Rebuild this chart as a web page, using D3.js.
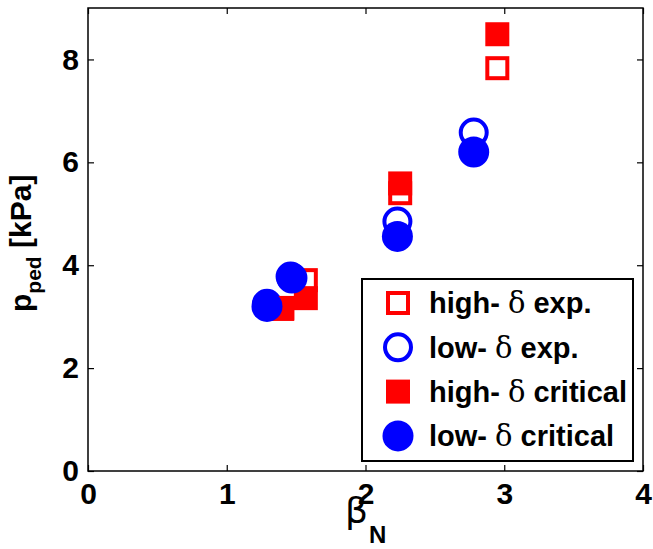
<!DOCTYPE html>
<html>
<head>
<meta charset="utf-8">
<script src="https://cdn.jsdelivr.net/npm/d3@7"></script>
<style>
  body { margin: 0; background: #fff; }
  text { font-family: "Liberation Sans", Arial, sans-serif; }
</style>
</head>
<body>
<script>
// data
var highExpX = [1.40, 1.57, 2.25, 2.95];
var highExpY = [3.15, 3.71, 5.40, 7.83];
var lowExpX = [1.29, 1.46, 2.23, 2.78];
var lowExpY = [3.25, 3.78, 4.85, 6.58];
var highCritX = [1.40, 1.57, 2.25, 2.95];
var highCritY = [3.17, 3.36, 5.59, 8.49];
var lowCritX = [1.29, 1.47, 2.23, 2.78];
var lowCritY = [3.20, 3.75, 4.56, 6.20];

var xTicks = [0, 1, 2, 3, 4];
var yTicks = [0, 2, 4, 6, 8];
var legendLabels = [["high- ", "exp."], ["low- ", "exp."], ["high- ", "critical"], ["low- ", "critical"]];

const w = 653;
const h = 549;
const mLeft = 88, mRight = 643, mTop = 8, mBottom = 471;

const svg = d3.select("body")
  .append("svg")
  .attr("width", w)
  .attr("height", h);

const x = d3.scaleLinear().domain([0, 4]).range([mLeft, mRight]);
const y = d3.scaleLinear().domain([0, 9]).range([mBottom, mTop]);

function zip(xs, ys) {
  return xs.map((d, i) => [d, ys[i]]);
}

// axes, ticks pointing in like matlab
svg.append("g")
  .attr("transform", "translate(0," + mBottom + ")")
  .call(d3.axisBottom(x).tickValues(xTicks).tickFormat(d3.format("d")).tickSizeInner(-6).tickSizeOuter(0).tickPadding(12))
  .call(g => g.select(".domain").remove())
  .selectAll("text")
  .style("font-size", "30px").style("font-weight", "bold").attr("fill", "#000");

svg.append("g")
  .attr("transform", "translate(" + mLeft + ",0)")
  .call(d3.axisLeft(y).tickValues(yTicks).tickFormat(d3.format("d")).tickSizeInner(-6).tickSizeOuter(0).tickPadding(9))
  .call(g => g.select(".domain").remove())
  .selectAll("text")
  .style("font-size", "30px").style("font-weight", "bold").attr("fill", "#000");

svg.append("g")
  .attr("transform", "translate(0," + mTop + ")")
  .call(d3.axisTop(x).tickValues(xTicks).tickSizeInner(-6).tickSizeOuter(0).tickFormat(""))
  .call(g => g.select(".domain").remove());

svg.append("g")
  .attr("transform", "translate(" + mRight + ",0)")
  .call(d3.axisRight(y).tickValues(yTicks).tickSizeInner(-6).tickSizeOuter(0).tickFormat(""))
  .call(g => g.select(".domain").remove());

svg.selectAll(".tick line").attr("stroke", "#000").attr("stroke-width", 1.2);

svg.append("rect")
  .attr("x", mLeft).attr("y", mTop)
  .attr("width", mRight - mLeft).attr("height", mBottom - mTop)
  .attr("fill", "none").attr("stroke", "#000").attr("stroke-width", 1.5);

// markers
svg.selectAll(".hexp")
  .data(zip(highExpX, highExpY))
  .enter()
  .append("rect")
  .attr("x", d => x(d[0]) - 10)
  .attr("y", d => y(d[1]) - 10)
  .attr("width", 20).attr("height", 20)
  .attr("fill", "none").attr("stroke", "#ff0000").attr("stroke-width", 4);

svg.selectAll(".lexp")
  .data(zip(lowExpX, lowExpY))
  .enter()
  .append("circle")
  .attr("cx", d => x(d[0]))
  .attr("cy", d => y(d[1]))
  .attr("r", 13)
  .attr("fill", "none").attr("stroke", "#0000ff").attr("stroke-width", 4);

svg.selectAll(".hcrit")
  .data(zip(highCritX, highCritY))
  .enter()
  .append("rect")
  .attr("x", d => x(d[0]) - 12)
  .attr("y", d => y(d[1]) - 12)
  .attr("width", 24).attr("height", 24)
  .attr("fill", "#ff0000");

svg.selectAll(".lcrit")
  .data(zip(lowCritX, lowCritY))
  .enter()
  .append("circle")
  .attr("cx", d => x(d[0]))
  .attr("cy", d => y(d[1]))
  .attr("r", 15.5)
  .attr("fill", "#0000ff");

// axis labels
const yl = svg.append("text")
  .attr("transform", "translate(31,312) rotate(-90)")
  .style("font-size", "30px").style("font-weight", "bold");
yl.append("tspan").text("p");
yl.append("tspan").attr("dy", 10).style("font-size", "21px").text("ped");
yl.append("tspan").attr("dy", -10).text(" [kPa]");

const xl = svg.append("text")
  .attr("x", 345).attr("y", 523);
xl.append("tspan").style("font-size", "36px").style("font-family", "'DejaVu Sans', sans-serif").text("β");
xl.append("tspan").attr("dy", 20).attr("dx", 1).style("font-size", "24px").style("font-weight", "bold").text("N");

// legend
const lg = svg.append("g");
lg.append("rect")
  .attr("x", 362).attr("y", 279).attr("width", 271).attr("height", 182)
  .attr("fill", "#fff").attr("stroke", "#000").attr("stroke-width", 2);

const rows = lg.selectAll(".row")
  .data(legendLabels)
  .enter()
  .append("g")
  .attr("transform", (d, i) => "translate(398," + (303 + i * 44.3) + ")");

rows.each(function(d, i) {
  const g = d3.select(this);
  if (i == 0) {
    g.append("rect").attr("x", -10).attr("y", -10).attr("width", 20).attr("height", 20)
      .attr("fill", "none").attr("stroke", "#ff0000").attr("stroke-width", 4);
  } else if (i == 1) {
    g.append("circle").attr("r", 13).attr("fill", "none").attr("stroke", "#0000ff").attr("stroke-width", 4);
  } else if (i == 2) {
    g.append("rect").attr("x", -12).attr("y", -12).attr("width", 24).attr("height", 24).attr("fill", "#ff0000");
  } else {
    g.append("circle").attr("r", 15.5).attr("fill", "#0000ff");
  }
});

const lt = rows.append("text")
  .attr("x", 31)
  .attr("dy", "0.36em")
  .style("font-size", "29px").style("font-weight", "bold");
lt.append("tspan").text(d => d[0]);
lt.append("tspan").style("font-weight", "normal").style("font-family", "'DejaVu Serif', serif").text("δ");
lt.append("tspan").text(d => " " + d[1]);
</script>
</body>
</html>
